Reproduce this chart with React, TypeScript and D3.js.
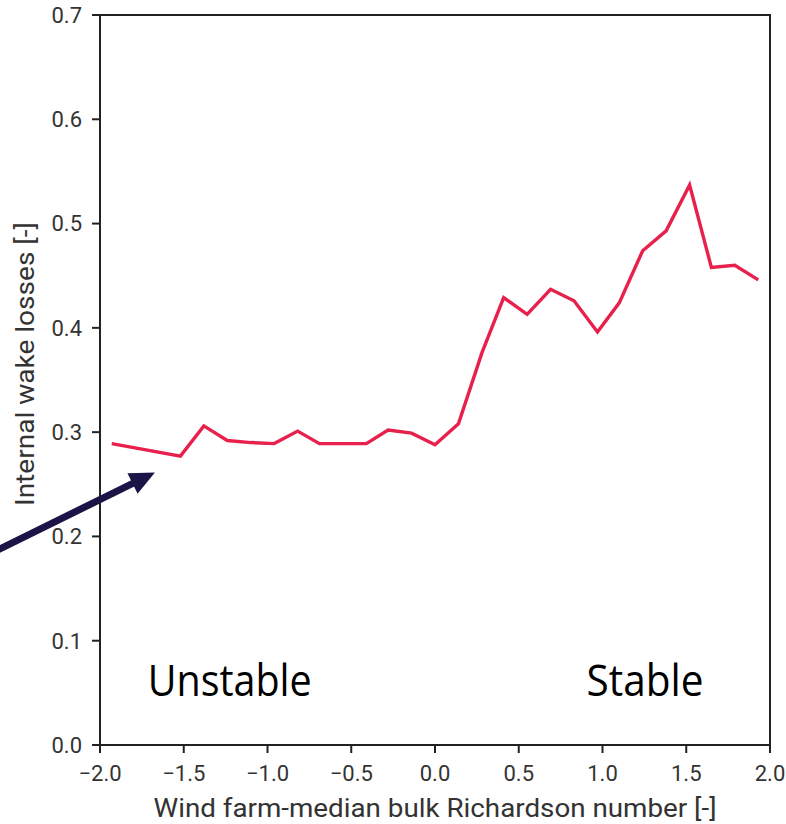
import React from "react";
import * as d3 from "d3";

// Bulk Richardson number bin centres and mean internal wake losses per bin
const richardson = [
  -1.93, -1.52, -1.38, -1.24, -1.10, -0.96, -0.82, -0.69, -0.55, -0.41, -0.28,
  -0.14, 0.0, 0.14, 0.28, 0.41, 0.55, 0.69, 0.83, 0.97, 1.10, 1.24, 1.38, 1.52,
  1.65, 1.79, 1.93,
];
const wakeLosses = [
  0.289, 0.277, 0.306, 0.292, 0.290, 0.289, 0.301, 0.289, 0.289, 0.289, 0.302,
  0.299, 0.288, 0.308, 0.376, 0.429, 0.413, 0.437, 0.426, 0.396, 0.424, 0.474,
  0.493, 0.537, 0.458, 0.460, 0.446,
];

const xTicks = [-2.0, -1.5, -1.0, -0.5, 0.0, 0.5, 1.0, 1.5, 2.0];
const yTicks = [0.0, 0.1, 0.2, 0.3, 0.4, 0.5, 0.6, 0.7];

const xLabel = "Wind farm-median bulk Richardson number [-]";
const yLabel = "Internal wake losses [-]";

// Regime annotations and the pointer arrow, in data units
const regimeLabels = [
  { text: "Unstable", x: -1.715, y: 0.047, len: 164 },
  { text: "Stable", x: 0.905, y: 0.047, len: 117 },
];
const arrowFrom = { x: -2.7, y: 0.18 };
const arrowTo = { x: -1.672, y: 0.2613 };

const W = 786;
const H = 824;
const margin = { left: 100, right: 16, top: 15, bottom: 79 };

export default function App() {
  const x = d3
    .scaleLinear()
    .domain([-2, 2])
    .range([margin.left, W - margin.right]);
  const y = d3
    .scaleLinear()
    .domain([0, 0.7])
    .range([H - margin.bottom, margin.top]);

  const points: [number, number][] = richardson.map((r, i) => [r, wakeLosses[i]]);
  const line = d3
    .line<[number, number]>()
    .x((d) => x(d[0]))
    .y((d) => y(d[1]));

  const fmt = (v: number) => d3.format(".1f")(v).replace("-", "\u2212");

  // arrow geometry
  const ax0 = x(arrowFrom.x);
  const ay0 = y(arrowFrom.y);
  const ax1 = x(arrowTo.x);
  const ay1 = y(arrowTo.y);
  const dx = ax1 - ax0;
  const dy = ay1 - ay0;
  const L = Math.hypot(dx, dy);
  const ux = dx / L;
  const uy = dy / L;
  const headLen = 25;
  const headHalf = 11.5;
  const bx = ax1 - ux * headLen;
  const by = ay1 - uy * headLen;
  const head = [
    [ax1, ay1],
    [bx - uy * headHalf, by + ux * headHalf],
    [bx + uy * headHalf, by - ux * headHalf],
  ]
    .map((p) => p.join(","))
    .join(" ");

  const x0 = margin.left;
  const x1 = W - margin.right;
  const y0 = H - margin.bottom;
  const y1 = margin.top;
  const axisColor = "#222";
  const labelColor = "#333";
  const font = "Roboto, 'DejaVu Sans', sans-serif";

  return (
    <svg
      width={W}
      height={H}
      style={{ position: "absolute", left: 0, top: 0, background: "#fff" }}
    >
      {/* data line */}
      <path
        d={line(points) ?? ""}
        fill="none"
        stroke="#e8204c"
        strokeWidth={3.4}
        strokeLinejoin="miter"
      />

      {/* frame */}
      <rect
        x={x0}
        y={y1}
        width={x1 - x0}
        height={y0 - y1}
        fill="none"
        stroke={axisColor}
        strokeWidth={2}
      />

      {/* y ticks */}
      {yTicks.map((t) => (
        <g key={"y" + t}>
          <line x1={x0 - 8} x2={x0} y1={y(t)} y2={y(t)} stroke={axisColor} strokeWidth={2} />
          <text
            x={x0 - 18}
            y={y(t)}
            dy="0.36em"
            textAnchor="end"
            fontFamily={font}
            fontSize={22}
            fill={labelColor}
          >
            {t.toFixed(1)}
          </text>
        </g>
      ))}

      {/* x ticks */}
      {xTicks.map((t) => (
        <g key={"x" + t}>
          <line x1={x(t)} x2={x(t)} y1={y0} y2={y0 + 8} stroke={axisColor} strokeWidth={2} />
          <text
            x={x(t)}
            y={y0 + 36}
            textAnchor="middle"
            fontFamily={font}
            fontSize={22}
            fill={labelColor}
          >
            {fmt(t)}
          </text>
        </g>
      ))}

      {/* axis titles */}
      <text
        x={(x0 + x1) / 2}
        y={y0 + 72}
        textAnchor="middle"
        fontFamily={font}
        fontSize={25}
        textLength={563}
        lengthAdjust="spacingAndGlyphs"
        fill={labelColor}
      >
        {xLabel}
      </text>
      <text
        transform={`translate(34, 364) rotate(-90)`}
        textAnchor="middle"
        fontFamily={font}
        fontSize={25}
        textLength={284}
        lengthAdjust="spacingAndGlyphs"
        fill={labelColor}
      >
        {yLabel}
      </text>

      {/* regime labels */}
      {regimeLabels.map((r) => (
        <text
          key={r.text}
          x={x(r.x)}
          y={y(r.y)}
          fontFamily="'Open Sans', Lato, sans-serif"
          fontSize={43}
          textLength={r.len}
          lengthAdjust="spacingAndGlyphs"
          fill="#000"
        >
          {r.text}
        </text>
      ))}

      {/* pointer arrow */}
      <line
        x1={ax0}
        y1={ay0}
        x2={bx + ux * 2}
        y2={by + uy * 2}
        stroke="#1b1446"
        strokeWidth={7}
      />
      <polygon points={head} fill="#1b1446" />
    </svg>
  );
}
